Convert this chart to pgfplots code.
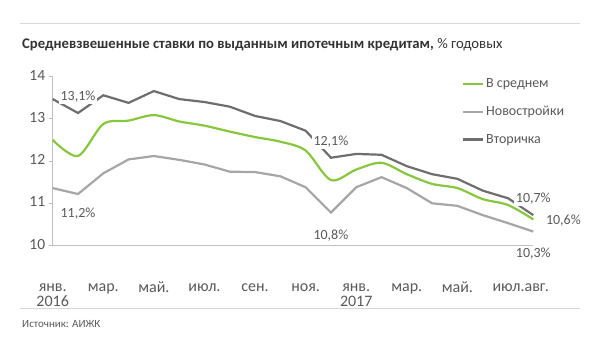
\documentclass[border=0pt]{standalone}
\usepackage{fontspec}
\setmainfont{Carlito}
\usepackage{pgfplots}
\pgfplotsset{compat=1.18}
\definecolor{cgreen}{RGB}{136,198,62}
\definecolor{clight}{RGB}{166,166,166}
\definecolor{cdark}{RGB}{110,110,110}
\definecolor{ctext}{RGB}{89,89,89}
\definecolor{crule}{RGB}{217,217,217}
\definecolor{caxis}{RGB}{191,191,191}
\tikzset{lbl/.style={font=\fontsize{14bp}{16bp}\selectfont, text=ctext, inner sep=1.5bp}}
\pgfplotstableread{
x dark light green
0 13.47 11.36 12.50
1 13.14 11.22 12.12
2 13.56 11.71 12.88
3 13.38 12.04 12.96
4 13.66 12.12 13.09
5 13.47 12.03 12.94
6 13.40 11.92 12.84
7 13.29 11.75 12.70
8 13.07 11.74 12.57
9 12.95 11.64 12.46
10 12.72 11.38 12.25
11 12.08 10.78 11.55
12 12.17 11.38 11.80
13 12.15 11.62 11.96
14 11.88 11.36 11.69
15 11.69 11.00 11.46
16 11.58 10.94 11.36
17 11.30 10.72 11.10
18 11.12 10.53 10.96
19 10.72 10.33 10.62
}\datatable
\begin{document}
\begin{tikzpicture}
\path[use as bounding box] (0bp,0bp) rectangle (591bp,-343bp);
\draw[crule, line width=1bp] (20bp,-23bp) -- (580bp,-23bp);
\draw[crule, line width=1bp] (20bp,-308bp) -- (580bp,-308bp);
\node[anchor=base west, inner sep=0pt, text=black!80, font=\fontsize{14.7bp}{17bp}\selectfont] at (22bp,-48bp) {\textbf{Средневзвешенные ставки по выданным ипотечным кредитам,} \% годовых};
\node[anchor=base west, inner sep=0pt, text=ctext, font=\fontsize{11bp}{13bp}\selectfont] at (22bp,-327bp) {Источник: АИЖК};
\begin{axis}[
  at={(52.7bp,-245.5bp)}, anchor=south west, scale only axis,
  width=480.6bp, height=168.8bp,
  xmin=0, xmax=19, ymin=10, ymax=14,
  axis lines=left, axis line style={caxis, line width=1bp, -},
  xtick={0,2,4,6,8,10,12,14,16,18.5},
  xticklabels={{янв.\\2016},мар.,май.,июл.,сен.,ноя.,{янв.\\2017},мар.,май.,июл.авг.},
  typeset ticklabels with strut,
  xticklabel style={align=center, font=\fontsize{16bp}{13bp}\selectfont, text=ctext, anchor=north, yshift=-29bp},
  x tick style={draw=none},
  ytick={10,11,12,13,14},
  y tick style={caxis, line width=1bp},
  tick align=outside, major tick length=4bp,
  yticklabel style={font=\fontsize{15.5bp}{18bp}\selectfont, text=ctext},
  /pgf/number format/assume math mode=true,
  clip=false,
  legend cell align=left,
  legend style={draw=none, fill=none, at={(0.845,1.012)}, anchor=north west,
    font=\fontsize{14bp}{16bp}\selectfont, text=ctext, row sep=13bp},
  legend image code/.code={\draw[#1, line width=2.2bp] (0bp,0bp) -- (20bp,0bp);},
]
\addplot[cgreen, line width=2.2bp, smooth] table[x=x, y=green] {\datatable};
\addlegendentry{В среднем}
\addplot[clight, line width=2.2bp] table[x=x, y=light] {\datatable};
\addlegendentry{Новостройки}
\addplot[cdark, line width=2.2bp] table[x=x, y=dark] {\datatable};
\addlegendentry{Вторичка}
\node[lbl, fill=white, yshift=16bp] at (axis cs:1,13.14) {13,1\%};
\node[lbl, yshift=-20bp] at (axis cs:1,11.22) {11,2\%};
\node[lbl, fill=white, yshift=16bp] at (axis cs:11,12.08) {12,1\%};
\node[lbl, yshift=-23bp] at (axis cs:11,10.78) {10,8\%};
\node[lbl, fill=white, yshift=16bp] at (axis cs:19,10.72) {10,7\%};
\node[lbl, fill=white, yshift=-22.5bp] at (axis cs:19,10.33) {10,3\%};
\node[lbl, anchor=west, xshift=11bp, yshift=-1.7bp] at (axis cs:19,10.62) {10,6\%};
\end{axis}
\end{tikzpicture}
\end{document}
